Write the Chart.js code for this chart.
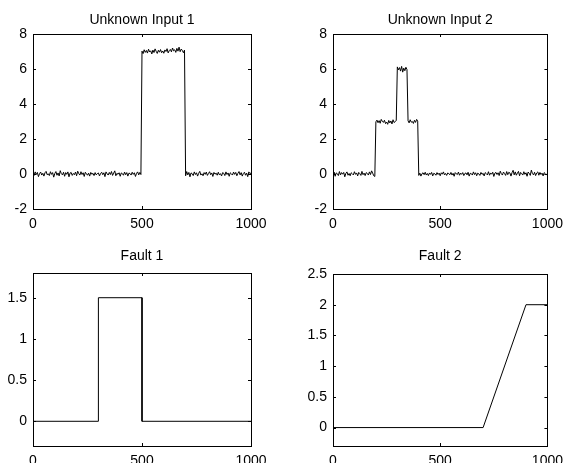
<!DOCTYPE html>
<html>
<head>
<meta charset="utf-8">
<script src="https://cdn.jsdelivr.net/npm/chart.js@4.4.0/dist/chart.umd.min.js"></script>
<style>
  html, body { margin: 0; padding: 0; background: #fff; }
  #wrap { position: relative; width: 570px; height: 463px; overflow: hidden; background: #fff; }
  #wrap canvas { position: absolute; left: 0; top: 0; }
</style>
</head>
<body>
<div id="wrap">
  <canvas id="input1Chart" width="570" height="490"></canvas>
  <canvas id="input2Chart" width="570" height="490"></canvas>
  <canvas id="fault1Chart" width="570" height="490"></canvas>
  <canvas id="fault2Chart" width="570" height="490"></canvas>
</div>
<script>
// sample spacing of the two noisy input signals (one value every 5 steps)
const STEP = 5;

// Unknown Input 1 (0..1000)
const input1Values = [
    0.05,-0.08,0.12,-0.03,0.09,-0.15,0.02,0.11,-0.06,0.04,
    -0.12,0.07,0.15,-0.04,0.01,-0.09,0.13,-0.02,0.08,-0.18,
    0.03,0.14,-0.07,0.06,-0.11,0.19,0.02,-0.05,0.1,-0.13,
    0.08,-0.02,0.12,-0.16,0.05,0.09,-0.08,0.03,-0.04,0.11,
    -0.1,0.16,0.02,-0.06,0.13,-0.03,0.07,-0.14,0.1,0.01,
    -0.07,0.05,-0.12,0.09,-0.02,0.04,-0.09,0.08,-0.05,0.02,
    0.06,-0.11,0.03,0.1,-0.04,0.07,-0.15,0.12,0.01,-0.06,
    0.09,-0.03,0.14,-0.08,0.05,0.18,-0.1,0.04,-0.02,0.07,
    -0.13,0.06,0.02,-0.07,0.11,-0.04,0.08,-0.12,0.05,0.03,
    -0.06,0.1,-0.02,0.07,-0.14,0.04,0.12,-0.05,0.09,-0.03,
    7.02,6.88,7.1,6.95,7.06,6.91,7.13,6.97,7.04,6.86,
    7.08,6.94,7.15,7.01,6.89,7.07,6.96,7.11,6.93,7.03,
    6.9,7.09,7.0,7.16,6.92,7.05,7.12,6.98,7.2,7.04,
    7.1,6.95,7.18,7.02,7.25,6.99,7.14,7.06,6.93,7.08,
    -0.1,0.14,-0.05,0.09,-0.16,0.06,0.02,-0.09,0.12,-0.03,
    0.07,-0.12,0.04,0.15,-0.06,0.01,-0.1,0.08,-0.02,0.11,
    -0.08,0.03,0.13,-0.04,0.06,-0.14,0.09,-0.01,0.05,-0.07,
    0.1,-0.05,0.02,-0.11,0.08,0.04,-0.09,0.12,-0.03,0.06,
    -0.13,0.07,0.01,-0.06,0.11,-0.02,0.09,-0.1,0.04,0.14,
    -0.05,0.08,-0.12,0.03,0.1,-0.07,0.05,-0.15,0.12,0.02,
    0.06
];

// Unknown Input 2
const input2Values = [
    -0.04,0.11,-0.13,0.06,0.02,-0.09,0.14,-0.05,0.08,-0.01,
    0.09,-0.16,0.04,0.12,-0.07,0.03,-0.1,0.07,0.01,-0.05,
    0.13,-0.02,0.06,-0.11,0.09,0.02,-0.08,0.15,-0.04,0.05,
    -0.09,0.08,0.03,-0.06,0.12,-0.03,0.18,0.05,-0.1,-0.14,
    2.98,3.08,2.93,3.05,2.9,3.12,3.01,2.95,3.07,2.88,
    2.97,2.84,3.06,2.92,3.03,2.86,3.1,2.94,3.0,3.05,
    6.12,5.95,6.08,5.88,6.15,5.82,6.05,5.9,6.1,5.97,
    3.04,2.92,3.1,2.96,3.0,2.89,3.07,2.95,3.12,3.02,
    -0.08,0.05,-0.12,0.02,0.07,-0.04,0.1,-0.06,0.03,-0.09,
    0.06,-0.02,0.09,-0.11,0.04,0.01,-0.07,0.08,-0.03,0.05,
    -0.1,0.07,-0.01,0.12,-0.05,0.03,-0.08,0.06,0.02,-0.04,
    0.09,-0.06,0.04,-0.13,0.08,0.01,-0.03,0.11,-0.07,0.05,
    -0.02,0.08,-0.09,0.03,0.06,-0.05,0.1,-0.12,0.04,0.02,
    -0.06,0.12,-0.03,0.07,-0.1,0.05,0.01,-0.08,0.09,-0.02,
    0.04,-0.11,0.08,0.02,-0.05,0.13,-0.07,0.06,-0.01,0.1,
    -0.14,0.05,0.09,-0.03,0.07,-0.09,0.16,0.02,-0.06,0.11,
    0.03,-0.08,0.14,-0.04,0.1,0.06,-0.12,0.08,0.21,-0.05,
    0.12,-0.07,0.05,0.15,-0.1,0.09,0.02,-0.06,0.13,-0.02,
    0.07,-0.13,0.11,0.04,-0.08,0.22,0.03,-0.05,0.1,-0.09,
    0.06,0.12,-0.07,0.09,-0.03,0.05,-0.11,0.08,0.02,-0.06,
    0.04
];

// Fault signals are clean, so just the corner points
const fault1Times = [0, 300, 300, 500, 500, 1000];
const fault1Values = [0, 0, 1.5, 1.5, 0, 0];
const fault2Times = [0, 700, 900, 1000];
const fault2Values = [0, 0, 2, 2];

// Tick labels
const xTicks = [0, 500, 1000];
const inputTicks = [-2, 0, 2, 4, 6, 8];
const fault1Ticks = [0, 0.5, 1, 1.5];
const fault2Ticks = [0, 0.5, 1, 1.5, 2, 2.5];

const FONT = '"Liberation Sans", Arial, Helvetica, sans-serif';
const FONT_SIZE = 14;
const CANVAS_W = 570;
const CANVAS_H = 490; // a bit taller than the page so the bottom labels get cut like the original
const Y_AXIS_W = 33;
const X_AXIS_H = 26;

// MATLAB style frame: box all round, ticks pointing inwards, title on top
const matlabFrame = {
    id: 'matlabFrame',
    afterDatasetsDraw(chart, args, opts) {
        const { ctx, chartArea: a, scales } = chart;
        const len = 3;
        ctx.save();
        ctx.strokeStyle = '#000';
        ctx.lineWidth = 1;
        ctx.beginPath();
        scales.x.ticks.forEach(t => {
            const px = Math.round(scales.x.getPixelForValue(t.value)) + 0.5;
            ctx.moveTo(px, a.bottom); ctx.lineTo(px, a.bottom - len);
            ctx.moveTo(px, a.top); ctx.lineTo(px, a.top + len);
        });
        scales.y.ticks.forEach(t => {
            const py = Math.round(scales.y.getPixelForValue(t.value)) + 0.5;
            ctx.moveTo(a.left, py); ctx.lineTo(a.left + len, py);
            ctx.moveTo(a.right, py); ctx.lineTo(a.right - len, py);
        });
        ctx.stroke();
        ctx.strokeRect(Math.round(a.left) + 0.5, Math.round(a.top) + 0.5,
            Math.round(a.right - a.left), Math.round(a.bottom - a.top));

        ctx.fillStyle = '#000';
        ctx.font = opts.size + 'px ' + FONT;
        ctx.textAlign = 'center';
        ctx.textBaseline = 'middle';
        ctx.fillText(opts.text, (a.left + a.right) / 2, opts.y);
        ctx.restore();
    }
};

function toPoints(times, values) {
    return values.map((v, i) => ({ x: times[i], y: v }));
}

function sampled(values) {
    return values.map((v, i) => ({ x: i * STEP, y: v }));
}

function makeChart(id, box, points, yMin, yMax, yTicks, title, titleY) {
    const ctx = document.getElementById(id).getContext('2d');
    return new Chart(ctx, {
        type: 'line',
        data: {
            datasets: [{
                data: points,
                borderColor: '#000',
                borderWidth: 1,
                pointRadius: 0,
                tension: 0,
                fill: false
            }]
        },
        options: {
            responsive: false,
            animation: false,
            devicePixelRatio: 1,
            layout: {
                padding: {
                    left: box.left - Y_AXIS_W,
                    top: box.top,
                    right: CANVAS_W - box.right,
                    bottom: CANVAS_H - box.bottom - X_AXIS_H
                }
            },
            plugins: {
                legend: { display: false },
                tooltip: { enabled: false },
                title: { display: false },
                matlabFrame: { text: title, size: FONT_SIZE, y: titleY }
            },
            scales: {
                x: {
                    type: 'linear',
                    min: 0,
                    max: 1000,
                    grid: { display: false, drawTicks: false },
                    border: { display: false },
                    afterBuildTicks: s => { s.ticks = xTicks.map(v => ({ value: v })); },
                    afterFit: s => { s.height = X_AXIS_H; },
                    ticks: {
                        color: '#000',
                        padding: 7,
                        maxRotation: 0,
                        font: { family: FONT, size: FONT_SIZE },
                        callback: v => String(v)
                    }
                },
                y: {
                    type: 'linear',
                    min: yMin,
                    max: yMax,
                    grid: { display: false, drawTicks: false },
                    border: { display: false },
                    afterBuildTicks: s => { s.ticks = yTicks.map(v => ({ value: v })); },
                    afterFit: s => { s.width = Y_AXIS_W; },
                    ticks: {
                        color: '#000',
                        padding: 6,
                        font: { family: FONT, size: FONT_SIZE },
                        callback: v => String(v)
                    }
                }
            }
        },
        plugins: [matlabFrame]
    });
}

makeChart('input1Chart', { left: 33, top: 34, right: 251, bottom: 209 },
    sampled(input1Values), -2, 8, inputTicks, 'Unknown Input 1', 20);
makeChart('input2Chart', { left: 333, top: 34, right: 551, bottom: 209 },
    sampled(input2Values), -2, 8, inputTicks, 'Unknown Input 2', 20);
makeChart('fault1Chart', { left: 33, top: 273, right: 251, bottom: 446 },
    toPoints(fault1Times, fault1Values), -0.3, 1.8, fault1Ticks, 'Fault 1', 256);
makeChart('fault2Chart', { left: 333, top: 274, right: 551, bottom: 446 },
    toPoints(fault2Times, fault2Values), -0.3, 2.5, fault2Ticks, 'Fault 2', 256);
</script>
</body>
</html>
